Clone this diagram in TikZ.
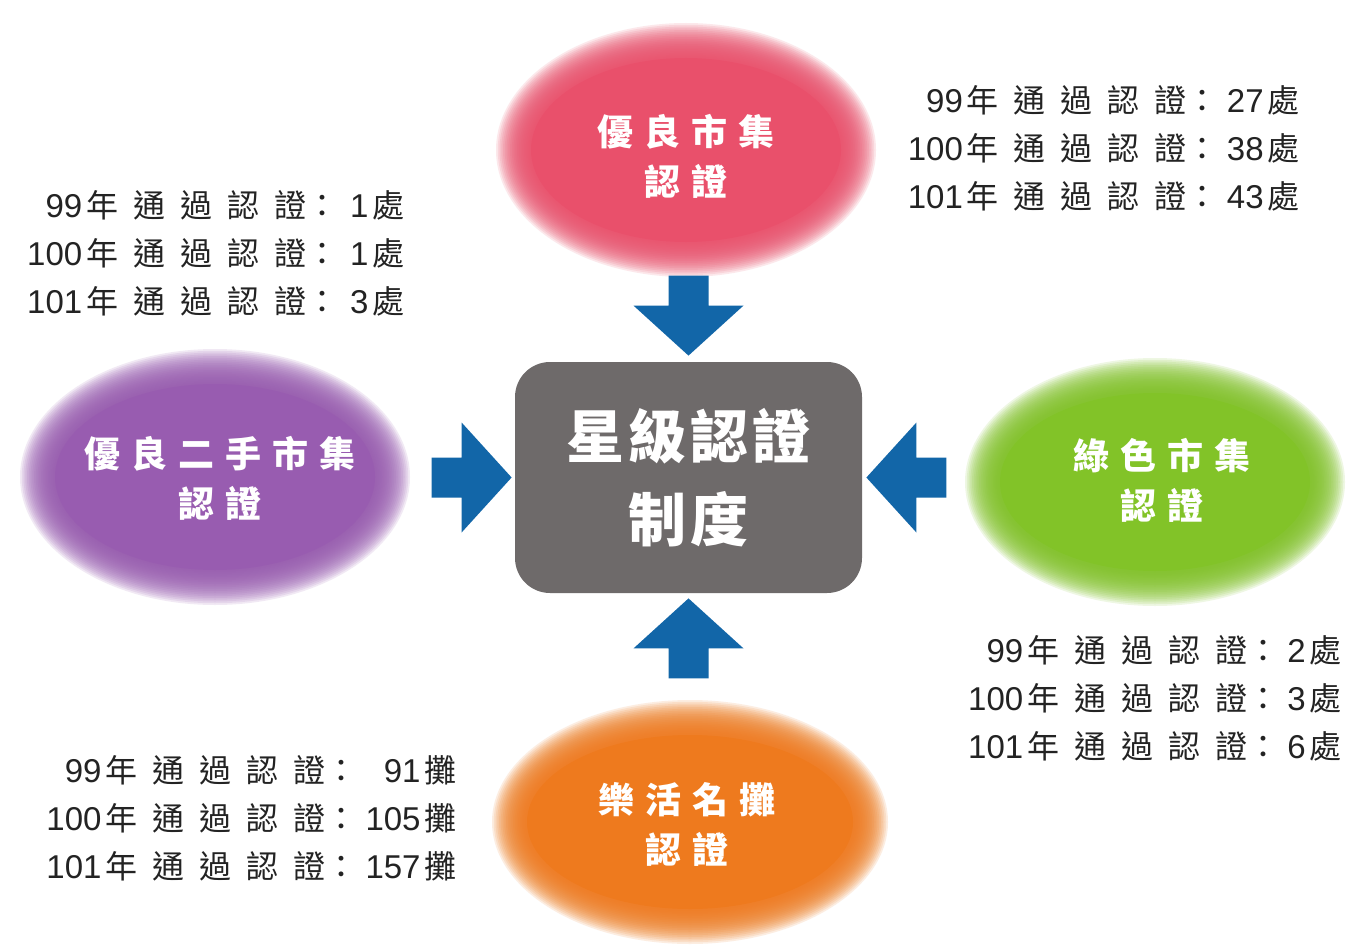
\documentclass[tikz,border=0pt]{standalone}
\usepackage{fontspec}
\setmainfont{Liberation Sans}
\newfontfamily\cjk{Noto Sans CJK TC}
\newfontfamily\numf{Liberation Sans}
\usetikzlibrary{calc}
\definecolor{pinkc}{RGB}{233,80,107}
\definecolor{purplec}{RGB}{152,92,176}
\definecolor{greenc}{RGB}{130,195,40}
\definecolor{orangec}{RGB}{238,122,30}
\definecolor{bluec}{RGB}{18,102,168}
\definecolor{boxc}{RGB}{110,106,106}
\definecolor{txtc}{RGB}{35,35,35}
\newdimen\trkgap
\makeatletter
\def\trk@end{}
\def\trk#1{\trk@a#1\trk@end}
\def\trk@a#1{#1\trk@b}
\def\trk@b#1{\ifx#1\trk@end\else\kern\trkgap#1\expandafter\trk@b\fi}
\makeatother
\newcommand\dg[1]{{\numf\fontsize{16.5}{24}\selectfont #1}}
\newcommand\statrow[3]{\dg{#1}\kern2pt{\cjk\trk{年通過認證}} & {\cjk ：} & \dg{#2}\kern2pt{\cjk #3}}
\newcommand\blurell[5]{%
  \foreach \k in {0,...,19} {\fill[#1, opacity=0.13] (#2,#3) ellipse ({(#4-\k*1.75)*0.5pt} and {(#5-\k*1.75)*0.5pt});}
  \fill[#1] (#2,#3) ellipse ({(#4-35)*0.5pt} and {(#5-35)*0.5pt});}
\tikzset{
  trk/.code={\global\trkgap=#1\relax},
  statbox/.style={inner sep=0pt, text=txtc, font=\fontsize{16}{24}\selectfont, trk=7.5pt},
  lbl/.style={inner sep=0pt, text=white, align=center, font=\cjk\bfseries\fontsize{18}{25}\selectfont, trk=5.5pt},
  centerbox/.style={fill=boxc, rounded corners=17.5pt, minimum width=173.5pt, minimum height=115.5pt, text=white, align=center, inner sep=0pt, font=\cjk\bfseries\fontsize{29}{41.5}\selectfont, trk=2pt},
  barrow/.pic={\fill[bluec] (0,0) -- (-50,55) -- (-50,20) -- (-80,20) -- (-80,-20) -- (-50,-20) -- (-50,-55) -- cycle;}
}
\newcommand\stattab[2]{\begin{tabular}{@{}r@{}c@{\hspace{#1}}r@{}}#2\end{tabular}}
\begin{document}
\begin{tikzpicture}[x=0.5pt, y=-0.5pt]
\useasboundingbox (0,0) rectangle (1349,947);
\fill[white] (0,0) rectangle (1349,947);
% blurred ellipses
\blurell{pinkc}{686}{150}{190}{127}
\blurell{purplec}{215}{477}{195}{128}
\blurell{greenc}{1155}{482}{190}{124}
\blurell{orangec}{690}{822}{198}{122}
% ellipse labels
\node[lbl] (good) at (686,156) {\trk{優良市集}\\\trk{認證}};
\node[lbl] (second) at (220,478) {\trk{優良二手市集}\\\trk{認證}};
\node[lbl] (green) at (1162,480) {\trk{綠色市集}\\\trk{認證}};
\node[lbl] (stall) at (687,824) {\trk{樂活名攤}\\\trk{認證}};
% centre box
\node[centerbox] (box) at (688.5,477.5) {\trk{星級認證}\\\trk{制度}};
% arrows
\pic[rotate=-90] at ([yshift=3pt]box.north) {barrow};
\pic[rotate=0] at ([xshift=-1.5pt]box.west) {barrow};
\pic[rotate=180] at ([xshift=2pt]box.east) {barrow};
\pic[rotate=90] at ([yshift=-2.5pt]box.south) {barrow};
% statistics
\node[statbox, anchor=east] (s1) at (405,256) {\stattab{6pt}{\statrow{99}{1}{處}\\ \statrow{100}{1}{處}\\ \statrow{101}{3}{處}}};
\node[statbox, anchor=east] (s2) at (1300,151) {\stattab{4pt}{\statrow{99}{27}{處}\\ \statrow{100}{38}{處}\\ \statrow{101}{43}{處}}};
\node[statbox, anchor=east] (s3) at (1342,701) {\stattab{4pt}{\statrow{99}{2}{處}\\ \statrow{100}{3}{處}\\ \statrow{101}{6}{處}}};
\node[statbox, anchor=east] (s4) at (457,821) {\stattab{4pt}{\statrow{99}{91}{攤}\\ \statrow{100}{105}{攤}\\ \statrow{101}{157}{攤}}};
\end{tikzpicture}
\end{document}
